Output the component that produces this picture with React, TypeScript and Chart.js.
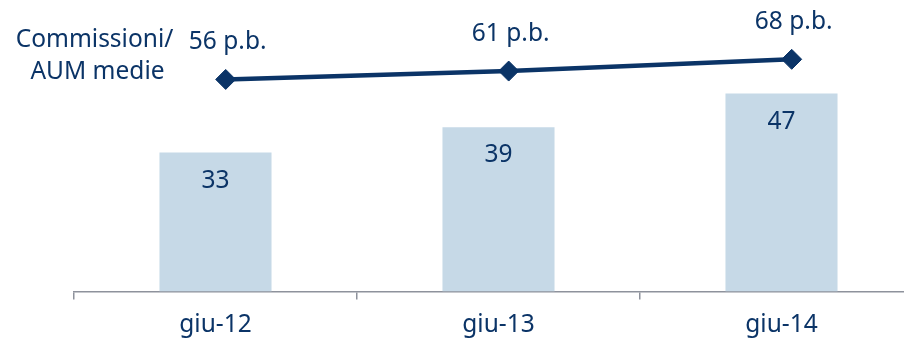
import React, { useEffect, useRef } from "react";
import { Chart, registerables } from "chart.js";

Chart.register(...registerables);

const categories = ["giu-12", "giu-13", "giu-14"];
const barValues = [33, 39, 47];
const lineValues = [56, 61, 68];
const lineLabels = ["56 p.b.", "61 p.b.", "68 p.b."];
const sideLabelLines = ["Commissioni/", "AUM medie"];

const NAVY = "#0b3467";
const BAR = "#c6d9e7";
const AXIS = "#8e929c";
const FONT = "'Noto Sans', sans-serif";

export default function App() {
  const ref = useRef<HTMLCanvasElement | null>(null);

  useEffect(() => {
    const canvas = ref.current;
    if (!canvas) return;

    const labelsPlugin = {
      id: "labelsPlugin",
      afterDatasetsDraw(chart: any) {
        const ctx = chart.ctx;
        ctx.save();
        ctx.fillStyle = NAVY;
        ctx.font = `24.5px ${FONT}`;
        ctx.textAlign = "center";
        ctx.textBaseline = "middle";
        const barMeta = chart.getDatasetMeta(1);
        barMeta.data.forEach((el: any, i: number) => {
          ctx.fillText(String(barValues[i]), el.x, el.y + 28);
        });
        const lineMeta = chart.getDatasetMeta(0);
        lineMeta.data.forEach((el: any, i: number) => {
          ctx.fillText(lineLabels[i], el.x + 2, el.y - 37);
        });
        ctx.textBaseline = "alphabetic";
        ctx.fillText(sideLabelLines[0], 94.5, 47);
        ctx.fillText(sideLabelLines[1], 97.5, 79);
        ctx.restore();
      },
    };

    const chart = new Chart(canvas, {
      type: "bar",
      data: {
        labels: categories,
        datasets: [
          {
            type: "line",
            data: lineValues.map((v, i) => ({ x: i, y: v })),
            xAxisID: "xl",
            yAxisID: "y2",
            borderColor: NAVY,
            backgroundColor: NAVY,
            borderWidth: 4.5,
            pointStyle: "rectRot",
            pointRadius: 10,
            pointBorderWidth: 1,
            pointBackgroundColor: NAVY,
            pointBorderColor: NAVY,
            tension: 0,
            clip: false,
            order: 0,
          } as any,
          {
            type: "bar",
            data: barValues,
            backgroundColor: BAR,
            borderWidth: 0,
            barPercentage: 0.396,
            categoryPercentage: 1,
            grouped: false,
            xAxisID: "x",
            yAxisID: "y",
            order: 1,
          },
        ],
      },
      options: {
        responsive: false,
        devicePixelRatio: 1,
        animation: false,
        layout: { autoPadding: false, padding: { left: 74, right: 7, top: 0, bottom: 0 } },
        plugins: {
          legend: { display: false },
          tooltip: { enabled: false },
          title: { display: false },
        },
        scales: {
          x: {
            type: "category",
            offset: true,
            grid: {
              display: true,
              drawOnChartArea: false,
              drawTicks: true,
              tickLength: 8,
              color: AXIS,
              lineWidth: 1.5,
              offset: true,
            },
            border: { display: true, color: AXIS, width: 1.5 },
            ticks: {
              color: NAVY,
              font: { family: FONT, size: 24.5, lineHeight: 1.2 },
              padding: 11,
              maxRotation: 0,
              autoSkip: false,
            },
          },
          xl: {
            type: "linear",
            display: false,
            offset: false,
            grid: { offset: false },
            min: -0.536,
            max: 2.464,
          },
          y: {
            display: false,
            min: 0,
            max: 69.2,
          },
          y2: {
            display: false,
            min: -70.6,
            max: 103.4,
          },
        },
      } as any,
      plugins: [labelsPlugin],
    });

    return () => chart.destroy();
  }, []);

  return (
    <div
      style={{
        position: "fixed",
        left: 0,
        top: 0,
        width: 904,
        height: 338,
        overflow: "hidden",
        background: "#ffffff",
      }}
    >
      <canvas
        ref={ref}
        width={930}
        height={351}
        style={{ display: "block", width: 930, height: 351 }}
      />
    </div>
  );
}
